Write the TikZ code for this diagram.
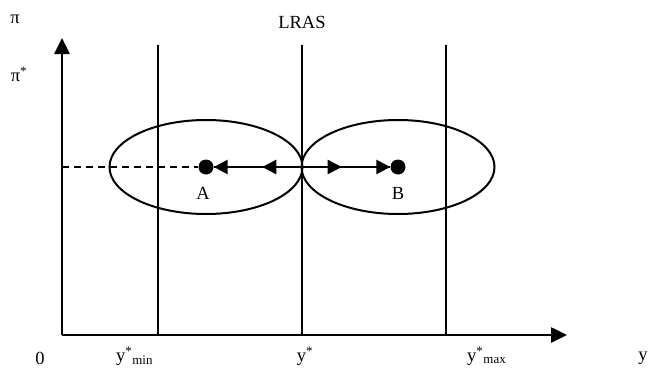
\documentclass[tikz,border=0pt]{standalone}
\usepackage{fontspec}
\setmainfont{Liberation Serif}
\usetikzlibrary{arrows.meta,decorations.markings}
\begin{document}
\begin{tikzpicture}[x=1pt,y=-1pt,
  ax/.style={line width=2.6pt,-{Triangle[length=16pt,width=15pt]}},
  vline/.style={line width=2pt},
  ell/.style={line width=2pt},
  lbl/.style={font=\fontsize{18.5}{18.5}\selectfont,inner sep=0pt},
  dot/.style={circle,fill=black,inner sep=0pt,minimum size=15pt},
  flow/.style={line width=2.6pt,
    postaction={decorate},
    decoration={markings,
      mark=at position 0.45 with {\arrow{Triangle[length=14pt,width=14pt]}},
      mark=at position 1 with {\arrow{Triangle[length=14pt,width=14pt]}}}}]
\useasboundingbox (0,0) rectangle (649,370);
\coordinate (O) at (62,335);
\coordinate (ytop) at (62,38);
\coordinate (xend) at (567,335);
\draw[ax] (O) -- (ytop);
\draw[ax] (O) -- (xend);
\coordinate (v1t) at (158,45); \coordinate (v1b) at (158,335);
\coordinate (v2t) at (302,45); \coordinate (v2b) at (302,335);
\coordinate (v3t) at (446,45); \coordinate (v3b) at (446,335);
\draw[vline] (v1t) -- (v1b);
\draw[vline] (v2t) -- (v2b);
\draw[vline] (v3t) -- (v3b);
\draw[ell] (206,167) ellipse [x radius=96.5, y radius=47];
\draw[ell] (398,167) ellipse [x radius=96.5, y radius=47];
\node[dot] (A) at (206,167) {};
\node[dot] (B) at (398,167) {};
\coordinate (C) at (302,167);
\coordinate (pl) at (62,167);
\draw[line width=1.8pt,dash pattern=on 7pt off 5pt] (pl) -- (A.west);
\draw[flow] (C) -- (A.east);
\draw[flow] (C) -- (B.west);
\node[lbl] (pi) at (15,19) {π};
\node[lbl] (pis) at (19,74) {π\textsuperscript{*}};
\node[lbl] (lras) at (302,22) {LRAS};
\node[lbl] (la) at (203,193) {A};
\node[lbl] (lb) at (398,193) {B};
\node[lbl] (zero) at (40,358) {0};
\node[lbl,anchor=west] (ymin) at (116,356) {y\textsuperscript{*}\textsubscript{min}};
\node[lbl] (ys) at (305,356) {y\textsuperscript{*}};
\node[lbl,anchor=west] (ymax) at (467,356) {y\textsuperscript{*}\textsubscript{max}};
\node[lbl] (y) at (643,358) {y};
\end{tikzpicture}
\end{document}
